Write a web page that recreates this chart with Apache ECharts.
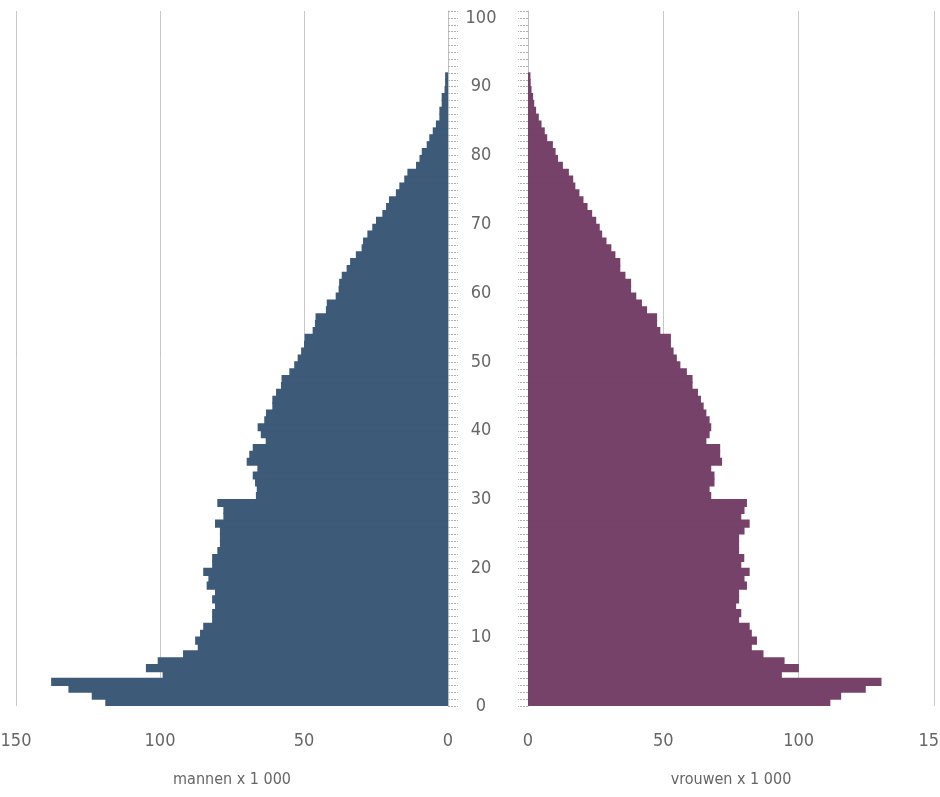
<!DOCTYPE html>
<html>
<head>
<meta charset="utf-8">
<script src="https://cdn.jsdelivr.net/npm/echarts@6/dist/echarts.min.js"></script>
<style>
  html, body { margin: 0; padding: 0; background: #fff; }
  #chart { width: 940px; height: 797px; }
</style>
</head>
<body>
<div id="chart"></div>
<script>
// Age categories 0..100
const ages = ['0','1','2','3','4','5','6','7','8','9','10','11','12','13','14','15','16','17','18','19','20','21','22','23','24','25','26','27','28','29','30','31','32','33','34','35','36','37','38','39','40','41','42','43','44','45','46','47','48','49','50','51','52','53','54','55','56','57','58','59','60','61','62','63','64','65','66','67','68','69','70','71','72','73','74','75','76','77','78','79','80','81','82','83','84','85','86','87','88','89','90','91','92','93','94','95','96','97','98','99','100'];

// Men x 1 000, by age 0..100 (no bars above 91)
const mannen = [
  119.0, 123.7, 131.8, 137.8, 99.1, 104.9, 100.8, 92.0, 86.9, 87.8,
  86.1, 85.0, 81.9, 81.9, 80.9, 81.9, 80.9, 83.8, 83.2, 85.0,
  81.9, 81.9, 80.1, 79.2, 79.2, 79.2, 80.9, 78.0, 78.0, 80.1,
  66.7, 66.4, 67.0, 67.8, 66.2, 69.9, 69.0, 67.8, 63.3, 65.0,
  66.1, 63.8, 63.2, 61.0, 61.0, 59.7, 58.0, 57.8, 55.1, 53.4,
  52.2, 51.0, 50.0, 49.8, 47.0, 46.2, 46.0, 42.4, 42.1, 39.0,
  38.0, 37.8, 36.9, 35.2, 34.0, 32.0, 30.0, 29.5, 28.0, 26.3,
  25.0, 22.8, 21.5, 20.5, 18.1, 16.9, 15.2, 14.1, 11.1, 9.9,
  9.1, 7.4, 6.5, 5.3, 4.2, 3.0, 3.0, 2.2, 2.2, 1.2,
  1.0, 1.0, null, null, null, null, null, null, null, null, null
];

// Women x 1 000, by age 0..100 (no bars above 91)
const vrouwen = [
  111.7, 115.7, 124.8, 130.6, 93.8, 100.1, 94.8, 87.0, 82.7, 84.6,
  82.7, 81.9, 78.0, 78.8, 76.9, 78.0, 78.0, 80.9, 80.0, 81.9,
  78.8, 79.9, 78.0, 78.0, 78.0, 80.0, 81.9, 78.8, 80.0, 80.9,
  67.7, 67.1, 68.9, 68.9, 67.7, 71.7, 71.0, 71.0, 65.9, 67.1,
  67.7, 67.1, 65.9, 64.9, 63.9, 62.8, 60.8, 60.8, 58.7, 56.3,
  55.0, 53.8, 52.8, 52.8, 48.9, 47.7, 47.7, 44.0, 42.1, 40.0,
  38.1, 38.1, 36.0, 34.1, 34.1, 32.3, 30.8, 29.0, 27.4, 26.5,
  25.2, 23.7, 22.0, 20.5, 19.0, 17.5, 16.7, 15.1, 12.9, 11.1,
  10.2, 9.2, 7.1, 6.2, 5.0, 4.0, 3.0, 2.3, 1.9, 1.3,
  1.0, 0.9, null, null, null, null, null, null, null, null, null
];

const leftTitle = 'mannen x 1 000';
const rightTitle = 'vrouwen x 1 000';

const FONT = '"Liberation Sans Narrow", "DejaVu Sans Condensed", "Roboto Condensed", sans-serif';
const TXT = '#666666';
const GRIDC = '#c8c8c8';
const MEN = '#3d5a78';
const WOMEN = '#76426a';

const chart = echarts.init(document.getElementById('chart'), null, { renderer: 'canvas' });

const tickStyle = { color: '#b0b0b0', width: 1, type: [2, 1] };

chart.setOption({
  animation: false,
  grid: [
    { left: 16, right: 492, top: 11, bottom: 91, containLabel: false, outerBoundsMode: 'none' },
    { left: 528, right: 6, top: 11, bottom: 91, containLabel: false, outerBoundsMode: 'none' }
  ],
  xAxis: [
    {
      gridIndex: 0, type: 'value', inverse: true, min: 0, max: 150, interval: 50,
      axisLine: { show: false }, axisTick: { show: false },
      splitLine: { show: true, lineStyle: { color: GRIDC, width: 1 } },
      axisLabel: { color: TXT, fontFamily: FONT, fontSize: 18, margin: 26 },
      name: leftTitle, nameLocation: 'middle', nameGap: 66,
      nameTextStyle: { color: TXT, fontFamily: FONT, fontSize: 16 }
    },
    {
      gridIndex: 1, type: 'value', min: 0, max: 150, interval: 50,
      axisLine: { show: false }, axisTick: { show: false },
      splitLine: { show: true, lineStyle: { color: GRIDC, width: 1 } },
      axisLabel: { color: TXT, fontFamily: FONT, fontSize: 18, margin: 26, hideOverlap: false },
      name: rightTitle, nameLocation: 'middle', nameGap: 66,
      nameTextStyle: { color: TXT, fontFamily: FONT, fontSize: 16 }
    }
  ],
  yAxis: [
    {
      gridIndex: 0, type: 'category', data: ages, position: 'right',
      axisLine: { show: true, lineStyle: { color: '#c0c0c0', width: 1 } },
      axisTick: { show: true, interval: 0, length: 10, lineStyle: tickStyle },
      axisLabel: {
        show: true, interval: function (i) { return i % 10 === 0; },
        color: TXT, fontFamily: FONT, fontSize: 18, align: 'center', margin: 33,
        verticalAlign: 'top', lineHeight: 7
      },
      splitLine: { show: false }
    },
    {
      gridIndex: 1, type: 'category', data: ages, position: 'left',
      axisLine: { show: true, lineStyle: { color: '#c0c0c0', width: 1 } },
      axisTick: { show: true, interval: 0, length: 10, lineStyle: tickStyle },
      axisLabel: { show: false },
      splitLine: { show: false }
    }
  ],
  series: [
    {
      name: 'mannen', type: 'bar', xAxisIndex: 0, yAxisIndex: 0,
      data: mannen, barWidth: '118%',
      itemStyle: { color: MEN }
    },
    {
      name: 'vrouwen', type: 'bar', xAxisIndex: 1, yAxisIndex: 1,
      data: vrouwen, barWidth: '118%',
      itemStyle: { color: WOMEN }
    }
  ]
});
</script>
</body>
</html>
